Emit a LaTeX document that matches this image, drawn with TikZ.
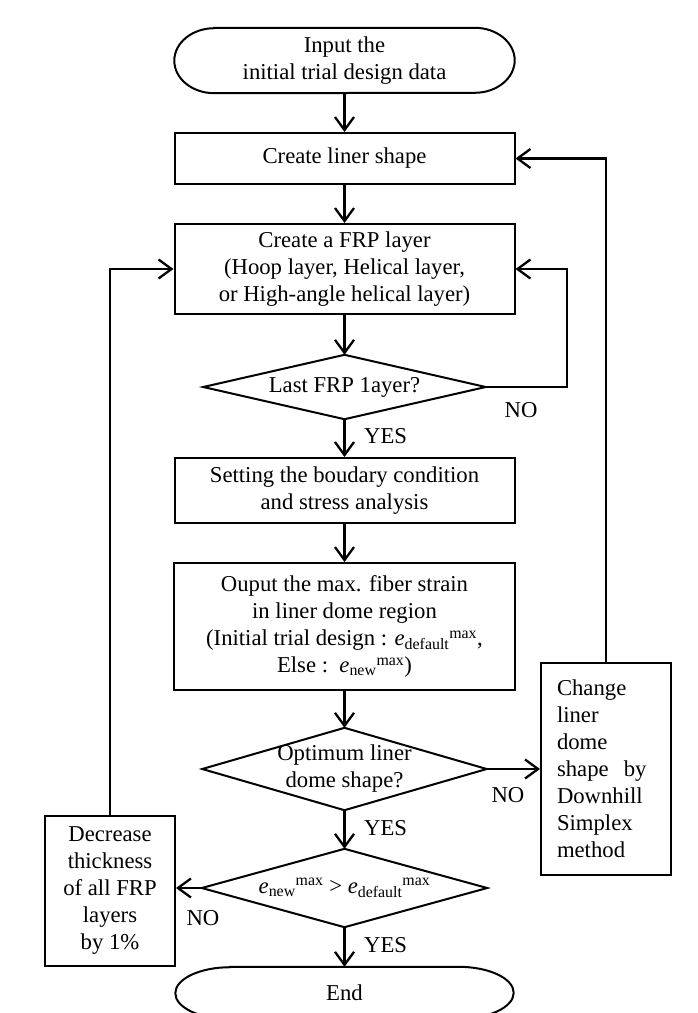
\documentclass[tikz,border=0pt]{standalone}
\usepackage{fontspec}
\setmainfont{Liberation Serif}
\usetikzlibrary{arrows.meta}
\newcommand{\evar}[1]{\textit{e}\textsubscript{#1}\textsuperscript{max}}
\begin{document}
\begin{tikzpicture}[x=1pt,y=-1pt,
  font=\fontsize{22.7}{27}\selectfont,
  box/.style={draw, line width=2pt, inner sep=0pt, align=center},
  txt/.style={inner sep=0pt, align=center},
  outline/.style={line width=2pt},
  conn/.style={line width=2.3pt, -{Straight Barb[length=13pt,width=19pt]}},
  lbl/.style={inner sep=0pt, anchor=base west},
]
\useasboundingbox (0,0) rectangle (698,1013);

% terminals
\node[txt, minimum width=340pt, minimum height=65pt] (start) at (344.5,60.5) {Input the\\initial trial design data};
\draw[outline] ([xshift=40pt]start.north west) -- ([xshift=-40pt]start.north east)
  arc[start angle=90, end angle=-90, x radius=40pt, y radius=32.5pt]
  -- ([xshift=40pt]start.south west)
  arc[start angle=270, end angle=90, x radius=40pt, y radius=32.5pt] -- cycle;

\node[txt, minimum width=338pt, minimum height=52pt] (end) at (344.5,993) {End};
\draw[outline] ([xshift=55pt]end.north west) -- ([xshift=-55pt]end.north east)
  arc[start angle=90, end angle=-90, x radius=55pt, y radius=26pt]
  -- ([xshift=55pt]end.south west)
  arc[start angle=270, end angle=90, x radius=55pt, y radius=26pt] -- cycle;

% process boxes
\node[box, minimum width=340pt, minimum height=51pt] (liner) at (344.5,158.5) {Create liner shape};
\node[box, minimum width=340pt, minimum height=90pt] (frp) at (344.5,269) {Create a FRP layer\\(Hoop layer, Helical layer,\\or High-angle helical layer)};
\node[box, minimum width=340pt, minimum height=65pt] (setting) at (344.5,490.5) {Setting the boudary condition\\and stress analysis};
\node[box, minimum width=341pt, minimum height=127pt] (output) at (344.5,626.5) {Ouput the max. fiber strain\\in liner dome region\\(Initial trial design : \evar{default},\\Else :\ \ \evar{new})};
\node[box, minimum width=130pt, minimum height=212pt, text width=98pt, inner xsep=16pt, align=left] (change) at (606,769) {Change\\liner\\dome\\shape\ \ by\\Downhill\\Simplex\\method};
\node[box, minimum width=130pt, minimum height=150pt] (decrease) at (110,891) {Decrease\\thickness\\of all FRP\\layers\\by 1\%};

% decisions
\node[txt, minimum width=282pt, minimum height=64pt] (d1) at (344.5,387) {Last FRP 1ayer?};
\draw[outline] (d1.north) -- (d1.east) -- (d1.south) -- (d1.west) -- cycle;
\node[txt, minimum width=284pt, minimum height=82pt] (d2) at (344.5,769) {Optimum liner\\dome shape?};
\draw[outline] (d2.north) -- (d2.east) -- (d2.south) -- (d2.west) -- cycle;
\node[txt, minimum width=285pt, minimum height=78pt] (d3) at (344.5,888) {\evar{new} > \evar{default}};
\draw[outline] (d3.north) -- (d3.east) -- (d3.south) -- (d3.west) -- cycle;

% connectors
\draw[conn] (start.south) -- (liner.north);
\draw[conn] (liner.south) -- (frp.north);
\draw[conn] (frp.south) -- (d1.north);
\draw[conn] (d1.south) -- (setting.north);
\draw[conn] (setting.south) -- (output.north);
\draw[conn] (output.south) -- (d2.north);
\draw[conn] (d2.south) -- (d3.north);
\draw[conn] (d3.south) -- (end.north);
\draw[conn] (d1.east) -- ++(81,0) |- (frp.east);
\draw[conn] (d2.east) -- (change.west);
\draw[conn] (change.north) |- (liner.east);
\draw[conn] (d3.west) -- (d3.west -| decrease.east);
\draw[conn] (decrease.north) |- (frp.west);

% labels
\node[lbl] (yes1) at (364,443) {YES};
\node[lbl] (yes2) at (364,835) {YES};
\node[lbl] (yes3) at (364,952) {YES};
\node[inner sep=0pt, anchor=base] (no1) at (521,417) {NO};
\node[inner sep=0pt, anchor=base] (no2) at (508,802) {NO};
\node[inner sep=0pt, anchor=base] (no3) at (203,925) {NO};
\end{tikzpicture}
\end{document}
